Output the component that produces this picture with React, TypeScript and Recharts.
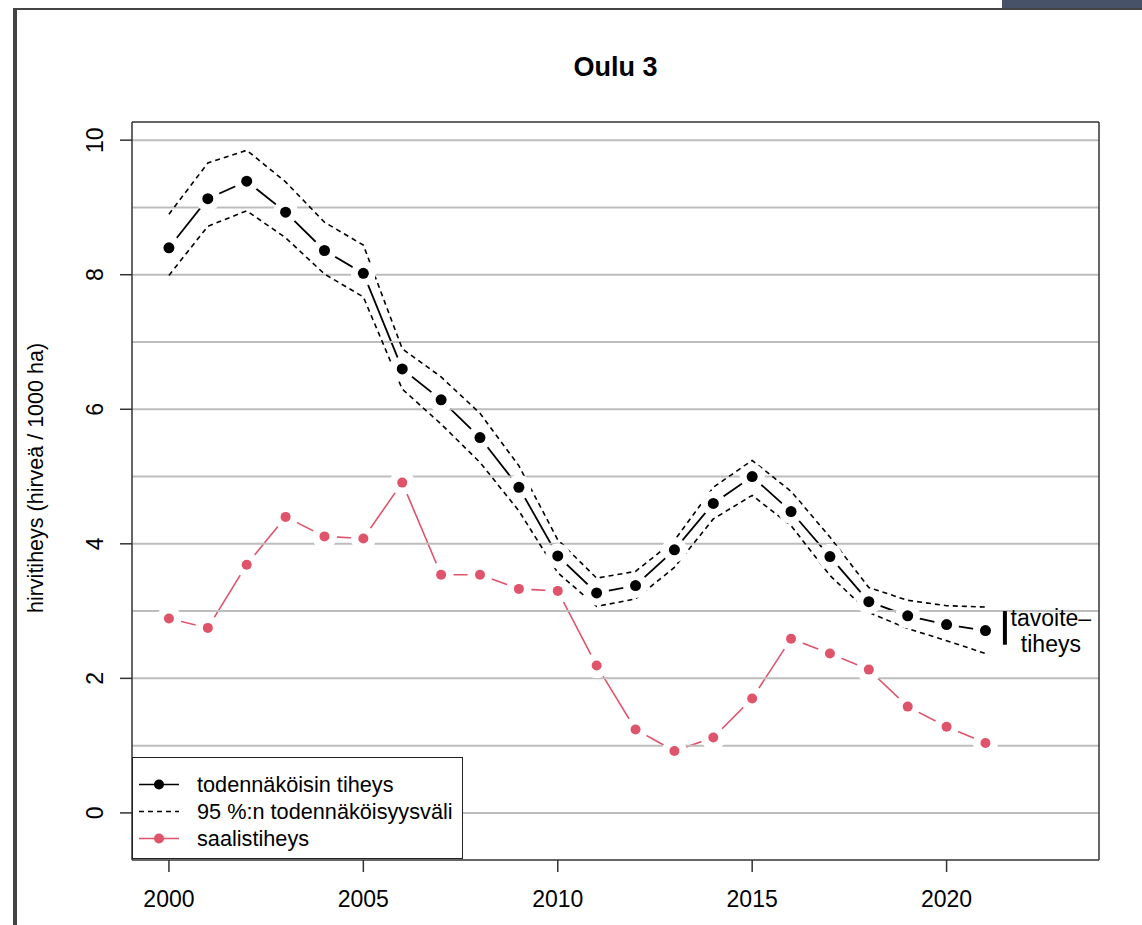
import React from 'react';
import { LineChart, Line, XAxis, YAxis, ReferenceLine } from 'recharts';

const years = [2000, 2001, 2002, 2003, 2004, 2005, 2006, 2007, 2008, 2009, 2010, 2011, 2012, 2013, 2014, 2015, 2016, 2017, 2018, 2019, 2020, 2021];
const bestDensity = [8.40, 9.13, 9.39, 8.93, 8.36, 8.02, 6.60, 6.14, 5.58, 4.84, 3.82, 3.27, 3.38, 3.91, 4.60, 5.00, 4.48, 3.81, 3.14, 2.93, 2.80, 2.71];
const upperCI = [8.90, 9.66, 9.85, 9.38, 8.78, 8.44, 6.90, 6.48, 5.94, 5.16, 4.06, 3.49, 3.59, 4.05, 4.84, 5.24, 4.78, 4.10, 3.35, 3.16, 3.08, 3.06];
const lowerCI = [7.99, 8.72, 8.95, 8.55, 8.01, 7.67, 6.30, 5.78, 5.21, 4.49, 3.57, 3.07, 3.18, 3.65, 4.37, 4.72, 4.27, 3.53, 2.98, 2.74, 2.56, 2.37];
const harvestDensity = [2.89, 2.75, 3.69, 4.40, 4.11, 4.08, 4.91, 3.54, 3.54, 3.33, 3.30, 2.19, 1.24, 0.92, 1.12, 1.70, 2.59, 2.37, 2.13, 1.58, 1.28, 1.04];

const gridValues = [0, 1, 2, 3, 4, 5, 6, 7, 8, 9, 10];
const xTicks = [2000, 2005, 2010, 2015, 2020];
const yTicks = [0, 2, 4, 6, 8, 10];
const xDomain = [1999.05, 2023.92];
const yDomain = [-0.70, 10.27];

// tavoitetiheys (target range)
const targetYear = 2021.5;
const targetLow = 2.5;
const targetHigh = 3.0;

const legendLabels = ['todennäköisin tiheys', '95 %:n todennäköisyysväli', 'saalistiheys'];

const FONT = '"Liberation Sans", Arial, Helvetica, sans-serif';
const RED = '#DF536B';
const FRAME = '#444';
const BOX = '#333';

const data = years.map((year, i) => ({
  year,
  best: bestDensity[i],
  upper: upperCI[i],
  lower: lowerCI[i],
  harvest: harvestDensity[i],
}));

const XTick = ({ x, y, payload }: any) => (
  <text x={x} y={y} dy="0.71em" textAnchor="middle" fontSize={23} fontFamily={FONT} fill="#000">
    {payload.value}
  </text>
);

const YTick = ({ x, y, payload }: any) => {
  const bx = x - 17;
  return (
    <text x={bx} y={y} transform={`rotate(-90 ${bx} ${y})`} textAnchor="middle" fontSize={23} fontFamily={FONT} fill="#000">
      {payload.value}
    </text>
  );
};

// white disc under each point, so the connecting line stops short of the point (R type="b")
const gapDot = (p: any) => <circle key={`g-${p.index}`} cx={p.cx} cy={p.cy} r={12.5} fill="#fff" stroke="none" />;
const blackDot = (p: any) => <circle key={`b-${p.index}`} cx={p.cx} cy={p.cy} r={5.5} fill="#000" stroke="none" />;
const redDot = (p: any) => <circle key={`r-${p.index}`} cx={p.cx} cy={p.cy} r={5} fill={RED} stroke="none" />;

const TargetLabel = ({ viewBox }: any) => {
  const x = viewBox.x + 46;
  const y = viewBox.y;
  return (
    <g fontFamily={FONT} fontSize={23} fill="#000">
      <text x={x} y={y + 7} textAnchor="middle" dominantBaseline="central">tavoite–</text>
      <text x={x} y={y + 33} textAnchor="middle" dominantBaseline="central">tiheys</text>
    </g>
  );
};

const YLabel = ({ viewBox }: any) => {
  const x = 43;
  const y = viewBox.y + viewBox.height / 2 - 13;
  return (
    <text x={x} y={y} transform={`rotate(-90 ${x} ${y})`} textAnchor="middle" fontSize={21.5} fontFamily={FONT} fill="#000">
      hirvitiheys (hirveä / 1000 ha)
    </text>
  );
};

const LegendBox = () => (
  <div
    style={{
      position: 'absolute', left: 132, top: 757, width: 329, height: 100,
      border: '1px solid #222', background: '#fff', fontFamily: FONT, fontSize: 21.7, color: '#000',
    }}
  >
    {legendLabels.map((label, i) => (
      <div key={label} style={{ position: 'absolute', left: 0, top: 13 + i * 27, height: 27, display: 'flex', alignItems: 'center' }}>
        <svg width={60} height={27} style={{ display: 'block' }}>
          {i === 1 ? (
            <line x1={6} x2={46} y1={13.5} y2={13.5} stroke="#000" strokeWidth={1.6} strokeDasharray="5 4" />
          ) : (
            <>
              <line x1={6} x2={46} y1={13.5} y2={13.5} stroke={i === 0 ? '#000' : RED} strokeWidth={1.6} />
              <circle cx={26} cy={13.5} r={5} fill={i === 0 ? '#000' : RED} />
            </>
          )}
        </svg>
        <span style={{ marginLeft: 4, whiteSpace: 'nowrap' }}>{label}</span>
      </div>
    ))}
  </div>
);

export default function App() {
  return (
    <div style={{ position: 'absolute', left: 0, top: 0, width: 1142, height: 925, background: '#fff', overflow: 'hidden' }}>
      {/* viewer frame */}
      <div style={{ position: 'absolute', left: 1002, top: 0, width: 140, height: 8, background: '#475269' }} />
      <div style={{ position: 'absolute', left: 13, top: 8, width: 1129, height: 2, background: FRAME }} />
      <div style={{ position: 'absolute', left: 13, top: 8, width: 4, height: 917, background: FRAME }} />

      <div style={{ position: 'absolute', left: 0, top: 52, width: 1231, textAlign: 'center', fontFamily: FONT, fontWeight: 'bold', fontSize: 27 }}>
        Oulu 3
      </div>

      <div style={{ position: 'absolute', left: 0, top: 0 }}>
        <LineChart width={1142} height={925} data={data} margin={{ top: 122, right: 43, bottom: 5, left: 72 }}>
          <XAxis
            dataKey="year"
            type="number"
            domain={xDomain}
            ticks={xTicks}
            allowDataOverflow
            height={60}
            tickSize={12}
            tickMargin={19}
            tick={<XTick />}
            axisLine={{ stroke: BOX, strokeWidth: 1.5 }}
            tickLine={{ stroke: BOX, strokeWidth: 1.5 }}
          />
          <YAxis
            type="number"
            domain={yDomain}
            ticks={yTicks}
            allowDataOverflow
            width={60}
            tickSize={12}
            tickMargin={0}
            tick={<YTick />}
            axisLine={{ stroke: BOX, strokeWidth: 1.5 }}
            tickLine={{ stroke: BOX, strokeWidth: 1.5 }}
            label={<YLabel />}
          />

          {/* connecting lines with gaps at the points */}
          <Line dataKey="best" type="linear" stroke="#000" strokeWidth={1.8} dot={gapDot} activeDot={false} isAnimationActive={false} />
          <Line dataKey="harvest" type="linear" stroke={RED} strokeWidth={1.6} dot={gapDot} activeDot={false} isAnimationActive={false} />

          {gridValues.map(v => (
            <ReferenceLine key={v} y={v} stroke="#bdbdbd" strokeWidth={2} />
          ))}

          {/* top and right edges of the plot box */}
          <ReferenceLine y={yDomain[1]} stroke={BOX} strokeWidth={1.5} ifOverflow="visible" />
          <ReferenceLine x={xDomain[1]} stroke={BOX} strokeWidth={1.5} ifOverflow="visible" />

          <Line dataKey="upper" type="linear" stroke="#000" strokeWidth={1.6} strokeDasharray="5 4" dot={false} activeDot={false} isAnimationActive={false} />
          <Line dataKey="lower" type="linear" stroke="#000" strokeWidth={1.6} strokeDasharray="5 4" dot={false} activeDot={false} isAnimationActive={false} />

          <Line dataKey="best" name="best-points" type="linear" stroke="none" dot={blackDot} activeDot={false} isAnimationActive={false} />
          <Line dataKey="harvest" name="harvest-points" type="linear" stroke="none" dot={redDot} activeDot={false} isAnimationActive={false} />

          <ReferenceLine
            segment={[{ x: targetYear, y: targetLow }, { x: targetYear, y: targetHigh }]}
            stroke="#000"
            strokeWidth={4}
            ifOverflow="visible"
            label={<TargetLabel />}
          />
        </LineChart>
      </div>

      <LegendBox />
    </div>
  );
}
